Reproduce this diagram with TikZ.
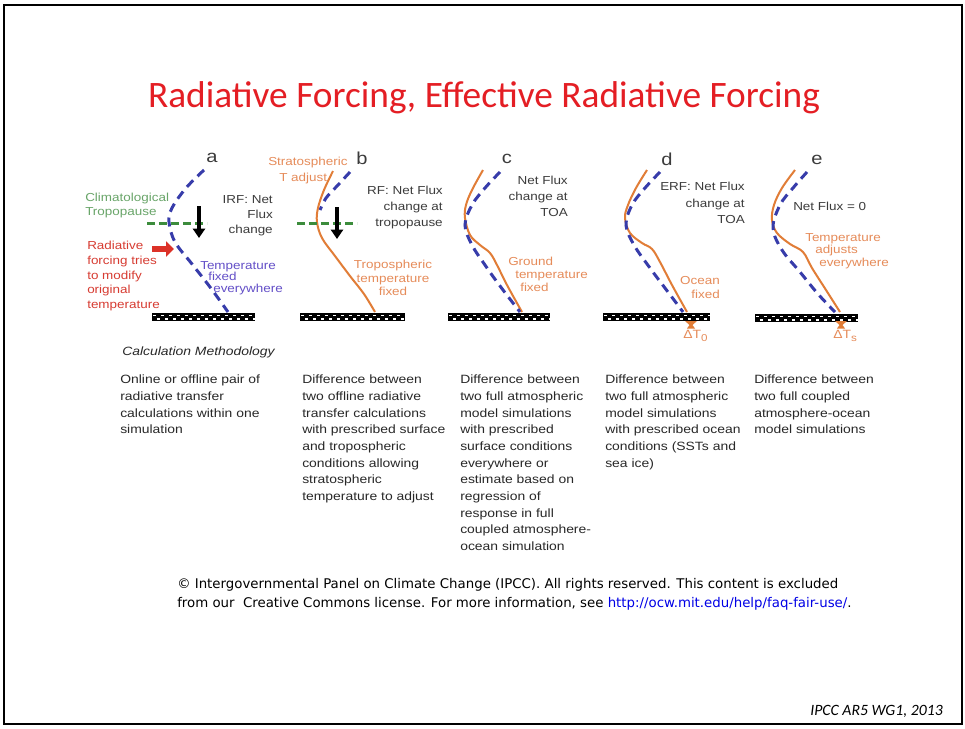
\documentclass[tikz,border=0pt]{standalone}
\usepackage{fontspec}
\setmainfont{Liberation Sans}
\newfontfamily\arw[FakeStretch=1.16]{Liberation Sans}
\newfontfamily\calfont{Carlito}
\newfontfamily\tahfont{DejaVu Sans}
\usetikzlibrary{arrows.meta}
\definecolor{titlered}{RGB}{228,30,36}
\definecolor{bluedash}{RGB}{55,60,170}
\definecolor{orline}{RGB}{225,125,55}
\definecolor{grdash}{RGB}{60,140,60}
\definecolor{grtext}{RGB}{105,165,105}
\definecolor{redtext}{RGB}{215,60,50}
\definecolor{redarrow}{RGB}{220,50,40}
\definecolor{purtext}{RGB}{100,80,200}
\definecolor{ortext}{RGB}{230,140,90}
\definecolor{graytext}{RGB}{60,60,60}
\definecolor{bodytext}{RGB}{40,40,40}
\definecolor{linkblue}{RGB}{0,0,230}
\tikzset{
  lab/.style={font=\arw\fontsize{8.7pt}{#1}\selectfont, inner sep=0pt},
  body/.style={font=\arw\fontsize{9pt}{12.5pt}\selectfont, inner sep=0pt, align=left, anchor=north west, text=bodytext},
  letter/.style={font=\arw\fontsize{13pt}{13pt}\selectfont, inner sep=0pt, text=graytext},
  bluecurve/.style={draw=bluedash, line width=2.25pt, dash pattern=on 6.75pt off 4.5pt},
  orcurve/.style={draw=orline, line width=1.5pt},
  greenline/.style={draw=grdash, line width=2.25pt, dash pattern=on 6pt off 3pt},
  downarrow/.style={draw=black, line width=2.4pt, -{Triangle[length=7pt,width=9pt]}},
  dtlabel/.style={font=\arw\fontsize{9pt}{9pt}\selectfont, inner sep=0pt, text=ortext},
}
\newcommand\groundbar[3]{%
  \fill[black] (#1,#3-4) rectangle (#2,#3+4);
  \draw[white, line width=1.2pt, dash pattern=on 2.25pt off 3.75pt] (#1+1,#3-1.7) -- (#2,#3-1.7);
  \draw[white, line width=1.2pt, dash pattern=on 2.25pt off 3.75pt, dash phase=3pt] (#1+1,#3+1.7) -- (#2,#3+1.7);
}
\newcommand\hourglass[1]{%
  \fill[orline] (#1-6,321) -- (#1+6,321) -- (#1+1.5,325) -- (#1+4,328.5) -- (#1-4,328.5) -- (#1-1.5,325) -- cycle;
}
\begin{document}
\begin{tikzpicture}[x=0.75pt,y=-0.75pt]
\useasboundingbox (0,0) rectangle (965,729);
\fill[white] (0,0) rectangle (965,729);
\draw[black, line width=1.5pt] (4,5) rectangle (962,724);

% title
\node[font=\calfont\fontsize{28pt}{30pt}\selectfont, text=titlered, inner sep=0pt] (title) at (484,98) {Radiative Forcing, Effective Radiative Forcing};

% ---------- panel a ----------
\node[letter] (la) at (212,158) {a};
\draw[bluecurve] plot[smooth, tension=0.6] coordinates {(204,170) (186,188) (172,208) (169,222) (175,242) (192,264) (210,287) (228,312)};
\coordinate (ga1) at (147,223); \coordinate (ga2) at (207,223);
\draw[greenline] (ga1) -- (ga2);
\coordinate (aa1) at (199,206); \coordinate (aa2) at (199,238);
\draw[downarrow] (aa1) -- (aa2);
\coordinate (ra1) at (152,249); \coordinate (ra2) at (174,249);
\draw[draw=redarrow, line width=4.5pt, -{Triangle[length=6pt,width=11.25pt]}] (ra1) -- (ra2);
\node[lab=10.5pt, text=grtext, align=left, anchor=west] (clim) at (85,205) {Climatological\\Tropopause};
\node[lab=11.2pt, text=graytext, align=right, anchor=east] (irf) at (273,216) {IRF: Net\\Flux\\change};
\node[lab=10.9pt, text=redtext, align=left, anchor=west] (radf) at (87,276) {Radiative\\forcing tries\\to modify\\original\\temperature};
\node[lab=8.7pt, text=purtext, align=left, anchor=west] (tfix) at (200,278) {Temperature\\\hspace*{6pt}fixed\\\hspace*{9.75pt}everywhere};
\groundbar{152}{255}{317}

% ---------- panel b ----------
\node[letter] (lb) at (362,158) {b};
\draw[bluecurve] plot[smooth] coordinates {(350,172) (338,185) (326,198) (320,210)};
\draw[orcurve] plot[smooth, tension=0.6] coordinates {(333,171) (324,190) (318,208) (317,222) (322,238) (335,256) (350,276) (364,294) (375,312)};
\coordinate (gb1) at (297,223); \coordinate (gb2) at (357,223);
\draw[greenline] (gb1) -- (gb2);
\coordinate (ab1) at (337,207); \coordinate (ab2) at (337,239);
\draw[downarrow] (ab1) -- (ab2);
\node[lab=12pt, text=ortext, align=left, anchor=west] (strat) at (268,170) {Stratospheric\\\hspace*{8.25pt}T adjust};
\node[lab=12pt, text=graytext, align=right, anchor=east] (rf) at (443,207) {RF: Net Flux\\change at\\tropopause};
\node[lab=10.1pt, text=ortext, align=center] (tropo) at (393,278) {Tropospheric\\temperature\\fixed};
\groundbar{300}{405}{317}

% ---------- panel c ----------
\node[letter] (lc) at (507,159) {c};
\draw[orcurve] plot[smooth, tension=0.6] coordinates {(483,170) (472,190) (466,205) (465,218) (470,235) (480,245) (490,253) (497,265) (507,285) (522,312)};
\draw[bluecurve] plot[smooth, tension=0.6] coordinates {(500,172) (485,188) (472,205) (465,225) (472,245) (485,265) (500,286) (520,312)};
\node[lab=12pt, text=graytext, align=right, anchor=east] (nfc) at (568,196) {Net Flux\\change at\\TOA};
\node[lab=9.8pt, text=ortext, align=left, anchor=west] (gtf) at (508,274) {Ground\\\hspace*{5.25pt}temperature\\\hspace*{9pt}fixed};
\groundbar{448}{550}{317}

% ---------- panel d ----------
\node[letter] (ld) at (667,159) {d};
\draw[orcurve] plot[smooth, tension=0.6] coordinates {(647,170) (636,188) (628,205) (625,218) (630,233) (642,243) (652,249) (660,262) (672,285) (687,312)};
\draw[bluecurve] plot[smooth, tension=0.6] coordinates {(660,172) (645,188) (632,205) (626,225) (634,245) (650,268) (668,292) (683,312)};
\node[lab=12.4pt, text=graytext, align=right, anchor=east] (erf) at (745,203) {ERF: Net Flux\\change at\\TOA};
\node[lab=10.5pt, text=ortext, align=right, anchor=east] (ocf) at (720,288) {Ocean\\fixed};
\groundbar{603}{710}{317}
\hourglass{691}
\node[dtlabel, anchor=west] (dt0) at (683,336) {ΔT\raisebox{-2.25pt}{\fontsize{7.5pt}{7.5pt}\selectfont 0}};

% ---------- panel e ----------
\node[letter] (le) at (817,160) {e};
\draw[orcurve] plot[smooth, tension=0.6] coordinates {(795,170) (782,188) (774,205) (772,220) (777,233) (790,244) (803,252) (812,268) (826,290) (840,312)};
\draw[bluecurve] plot[smooth, tension=0.6] coordinates {(807,172) (793,188) (780,205) (773,228) (782,250) (800,272) (818,294) (835,312)};
\node[lab=10pt, text=graytext, anchor=west] (nf0) at (793,206) {Net Flux = 0};
\node[lab=9.4pt, text=ortext, align=left, anchor=west] (tae) at (805,251) {Temperature\\\hspace*{7.5pt}adjusts\\\hspace*{10.5pt}everywhere};
\groundbar{755}{858}{318}
\hourglass{841}
\node[dtlabel, anchor=west] (dts) at (833,336) {ΔT\raisebox{-2.25pt}{\fontsize{7.5pt}{7.5pt}\selectfont s}};

% ---------- methodology ----------
\node[font=\arw\itshape\fontsize{9pt}{10pt}\selectfont, text=bodytext, inner sep=0pt, anchor=west] (calc) at (122,352) {Calculation Methodology};
\node[body] (ta) at (120,375) {Online or offline pair of\\radiative transfer\\calculations within one\\simulation};
\node[body] (tb) at (302,375) {Difference between\\two offline radiative\\transfer calculations\\with prescribed surface\\and tropospheric\\conditions allowing\\stratospheric\\temperature to adjust};
\node[body] (tc) at (460,375) {Difference between\\two full atmospheric\\model simulations\\with prescribed\\surface conditions\\everywhere or\\estimate based on\\regression of\\response in full\\coupled atmosphere-\\ocean simulation};
\node[body] (td) at (605,375) {Difference between\\two full atmospheric\\model simulations\\with prescribed ocean\\conditions (SSTs and\\sea ice)};
\node[body] (te) at (754,375) {Difference between\\two full coupled\\atmosphere-ocean\\model simulations};

% ---------- copyright ----------
\node[font=\tahfont\fontsize{10pt}{14.25pt}\selectfont, inner sep=0pt, align=left, anchor=west] (copy) at (177,594.5) {© Intergovernmental Panel on Climate Change (IPCC). All rights reserved. This content is excluded\\from our\ \ Creative Commons license. For more information, see \textcolor{linkblue}{http://ocw.mit.edu/help/faq-fair-use/}.};

\node[font=\calfont\itshape\fontsize{11.8pt}{12pt}\selectfont, inner sep=0pt, anchor=east] (src) at (943,711) {IPCC AR5 WG1, 2013};
\end{tikzpicture}
\end{document}
